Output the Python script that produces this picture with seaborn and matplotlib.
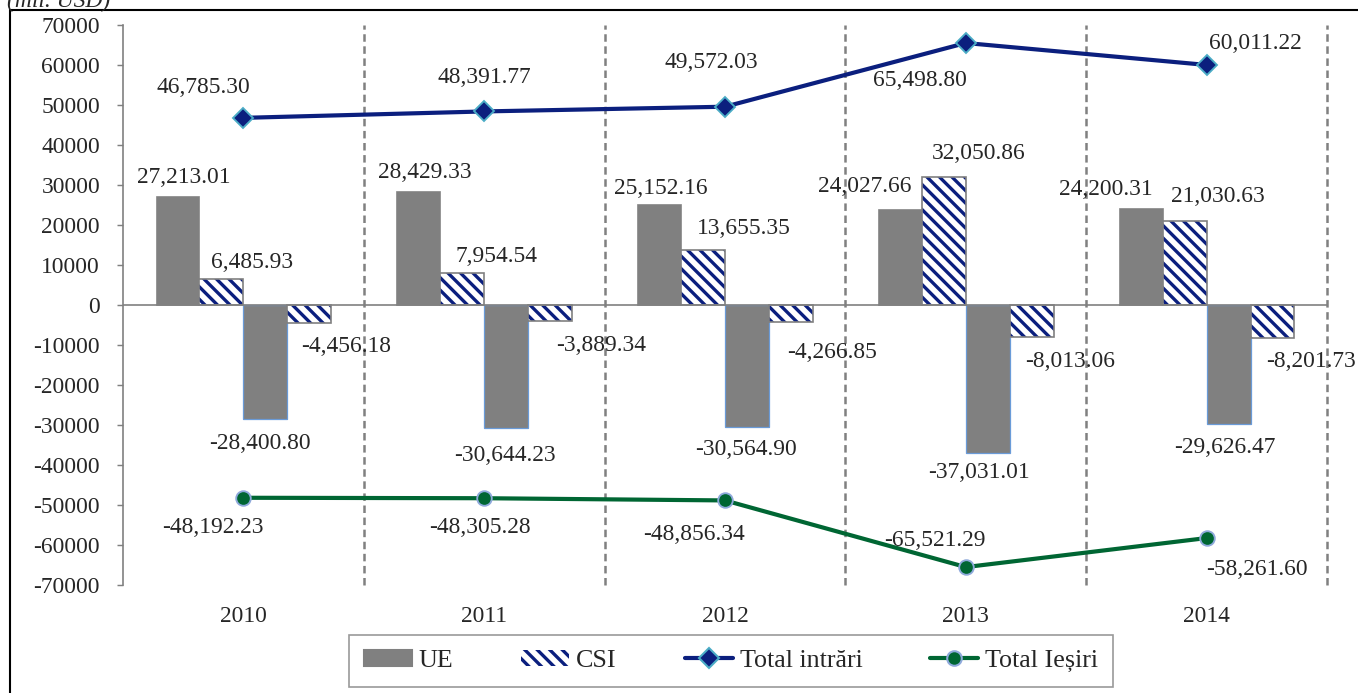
import numpy as np
import pandas as pd
import seaborn as sns
import matplotlib.pyplot as plt
from matplotlib.patches import Patch, Rectangle
from matplotlib.lines import Line2D

years = ["2010", "2011", "2012", "2013", "2014"]
ue_in = [27213.01, 28429.33, 25152.16, 24027.66, 24200.31]
csi_in = [6485.93, 7954.54, 13655.35, 32050.86, 21030.63]
ue_out = [-28400.80, -30644.23, -30564.90, -37031.01, -29626.47]
csi_out = [-4456.18, -3889.34, -4266.85, -8013.06, -8201.73]
total_in = [46785.30, 48391.77, 49572.03, 65498.80, 60011.22]
total_out = [-48192.23, -48305.28, -48856.34, -65521.29, -58261.60]
y_ticks = list(range(-70000, 70001, 10000))

sns.set_style("white")
plt.rcParams['font.family'] = ['Liberation Serif', 'DejaVu Serif']
plt.rcParams['axes.unicode_minus'] = False
plt.rcParams['hatch.linewidth'] = 1.6
plt.rcParams['lines.scale_dashes'] = False

GREY = '#808080'
NAVY = '#0B1F7E'
GREEN = '#006633'
FS = 11.3
HATCH = '\\\\\\\\'   # 4 backslashes -> ~12 px stripe pitch at 150 dpi

df = pd.DataFrame({
    'year': years * 4,
    'serie': ['UE_in'] * 5 + ['CSI_in'] * 5 + ['UE_out'] * 5 + ['CSI_out'] * 5,
    'value': ue_in + csi_in + ue_out + csi_out,
})

fig = plt.figure(figsize=(1358 / 150, 693 / 150), dpi=150)
ax = fig.add_axes([123 / 1358, 1 - 585 / 693, (1327 - 123) / 1358, (585 - 25) / 693])

sns.barplot(data=df, x='year', y='value', hue='serie', width=0.73, dodge=True,
            legend=False, ax=ax, saturation=1,
            palette=[GREY, 'white', GREY, GREY])

ue_in_bars, csi_in_bars, ue_out_bars, csi_out_bars = ax.containers

for b in ue_in_bars:
    b.set_facecolor(GREY)
    b.set_edgecolor(GREY)
    b.set_linewidth(0.3)
for b in ue_out_bars:
    b.set_facecolor(GREY)
    b.set_edgecolor('#6A9BD8')
    b.set_linewidth(0.6)
for bars in (csi_in_bars, csi_out_bars):
    for b in bars:
        b.set_facecolor('white')
        b.set_edgecolor(NAVY)
        b.set_hatch(HATCH)
        b.set_linewidth(0)
        ax.add_patch(Rectangle((b.get_x(), b.get_y()), b.get_width(), b.get_height(),
                               fill=False, edgecolor=GREY, linewidth=0.8, zorder=3))

xs = np.arange(len(years))
sns.lineplot(x=xs, y=total_in, ax=ax, color=NAVY, linewidth=2.0, marker='D',
             markersize=6.5, markerfacecolor=NAVY, markeredgecolor='#4BACC6',
             markeredgewidth=0.9, zorder=5)
sns.lineplot(x=xs, y=total_out, ax=ax, color=GREEN, linewidth=2.0, marker='o',
             markersize=7, markerfacecolor=GREEN, markeredgecolor='#8EA9DB',
             markeredgewidth=0.9, zorder=5)

# data labels, offsets in pixels
off_ue_in = [(6, 19), (7, 19), (2, 16), (-35, 22), (-35, 19)]
off_csi_in = [(31, 17), (34, 17), (41, 22), (35, 23), (33, 24)]
off_ue_out = [(-5, -25), (-1, -28), (-1, -22), (-9, -19), (-4, -24)]
off_csi_out = [(37, -24), (51, -25), (41, -30), (38, -24), (38, -24)]
off_tin = [(-40, 30), (0, 34), (-14, 44), (-46, -37), (49, 21)]
off_tout = [(-31, -30), (-4, -29), (-31, -34), (-31, 27), (50, -31)]

for bars, offs in ((ue_in_bars, off_ue_in), (csi_in_bars, off_csi_in),
                   (ue_out_bars, off_ue_out), (csi_out_bars, off_csi_out)):
    for b, (dx, dy) in zip(bars, offs):
        v = b.get_height()
        ax.annotate(f"{v:,.2f}", xy=(b.get_x() + b.get_width() / 2, v),
                    xytext=(dx, dy), textcoords='offset pixels',
                    ha='center', va='center', fontsize=FS, zorder=6)

for vals, offs in ((total_in, off_tin), (total_out, off_tout)):
    for x, v, (dx, dy) in zip(xs, vals, offs):
        ax.annotate(f"{v:,.2f}", xy=(x, v), xytext=(dx, dy), textcoords='offset pixels',
                    ha='center', va='center', fontsize=FS, zorder=6)

# axes styling
ax.set_xlim(-0.5, len(years) - 0.5)
ax.set_ylim(-70000, 70000)
ax.set_yticks(y_ticks)
ax.set_yticklabels([str(t) for t in y_ticks], fontsize=FS)
ax.set_xticks(xs)
ax.set_xticklabels(years, fontsize=FS)
ax.set_xlabel('')
ax.set_ylabel('')
ax.tick_params(axis='y', direction='out', length=3, width=0.7, color=GREY, pad=8, left=True)
ax.tick_params(axis='x', length=0, pad=10)
for s in ('top', 'right', 'bottom'):
    ax.spines[s].set_visible(False)
ax.spines['left'].set_color(GREY)
ax.spines['left'].set_linewidth(0.8)
ax.axhline(0, color=GREY, linewidth=0.8, zorder=2)
for xb in np.arange(0.5, len(years), 1.0):
    ax.axvline(xb, color=GREY, linewidth=1.2, linestyle=(0, (3.6, 2.2)), zorder=1,
               clip_on=False)

# legend
handles = [
    Patch(facecolor=GREY, edgecolor=GREY, label='UE'),
    Patch(facecolor='white', edgecolor=NAVY, hatch=HATCH, linewidth=0, label='CSI'),
    Line2D([0], [0], color=NAVY, lw=2.0, marker='D', markersize=6.5, markerfacecolor=NAVY,
           markeredgecolor='#4BACC6', label='Total intrări'),
    Line2D([0], [0], color=GREEN, lw=2.0, marker='o', markersize=7, markerfacecolor=GREEN,
           markeredgecolor='#8EA9DB', label='Total Ieșiri'),
]
leg = fig.legend(handles=handles, loc='center', bbox_to_anchor=(731 / 1358, 1 - 661 / 693),
                 ncol=4, fontsize=12.5, frameon=True, fancybox=False, handlelength=1.85,
                 handleheight=0.6, handletextpad=0.27, columnspacing=2.6, borderpad=0.55)
leg.get_frame().set_edgecolor(GREY)
leg.get_frame().set_linewidth(0.8)

# outer frame and unit note
fig.add_artist(Rectangle((10 / 1358, -0.2), 2.0, 1.2 - 10 / 693, transform=fig.transFigure,
                         fill=False, edgecolor='black', linewidth=1.0, clip_on=False))
fig.text(7 / 1358, 1 - 7 / 693, '(mil. USD)', fontsize=FS, style='italic',
         ha='left', va='baseline')

fig.savefig('out.png', dpi=150)
